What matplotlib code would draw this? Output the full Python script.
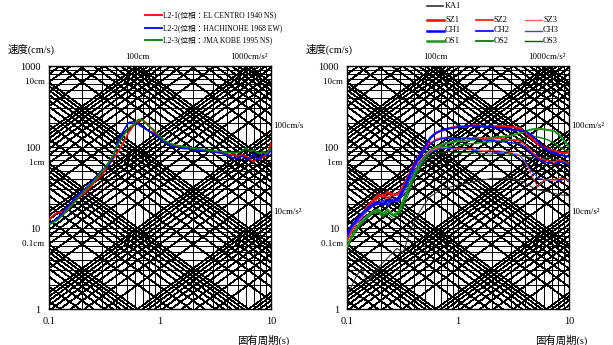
import numpy as np
import matplotlib
matplotlib.use('Agg')
import matplotlib.pyplot as plt
from matplotlib.lines import Line2D

plt.rcParams['font.family'] = ['Liberation Serif', 'Noto Sans CJK JP']

# ---------- data: left panel (3 waves) ----------
T_L = [0.10, 0.11, 0.12, 0.13, 0.15, 0.17, 0.19, 0.21, 0.24, 0.27, 0.30, 0.34, 0.38, 0.42,
       0.47, 0.52, 0.58, 0.64, 0.70, 0.78, 0.87, 0.97, 1.1, 1.25, 1.4, 1.6, 1.8, 2.1, 2.5,
       3.0, 3.5, 4.0, 4.5, 5.0, 5.5, 6.0, 6.5, 7.0, 7.5, 8.0, 8.5, 9.0, 9.5, 10]
el_centro = [12.6, 14.5, 15.5, 15.8, 17.5, 21, 24.5, 27, 33, 40, 45, 58, 72, 88, 115, 150,
             185, 210, 215, 190, 160, 135, 118, 108, 103, 100, 97, 95, 92, 88, 84, 82, 80,
             78, 80, 77, 70, 66, 72, 70, 76, 78, 90, 112]
hachinohe = [11.4, 12, 13.5, 15, 19, 23, 26.8, 30, 36, 44, 52, 58, 76, 120, 160, 200, 205,
             190, 175, 160, 150, 130, 115, 104, 100, 96, 95, 92, 90, 87, 85, 80, 74, 72, 78,
             69, 75, 82, 70, 73, 85, 80, 82, 95]
kobe = [11.0, 11.8, 12.6, 14, 17, 21, 25, 29, 35, 42, 50, 63, 80, 110, 140, 170, 190, 220,
        215, 185, 165, 140, 120, 110, 105, 102, 99, 96, 93, 90, 88, 86, 85, 85, 90, 97, 88,
        92, 85, 84, 88, 82, 90, 95]
left_labels = ['L2-1(位相：EL CENTRO 1940 NS)', 'L2-2(位相：HACHINOHE 1968 EW)',
               'L2-3(位相：JMA KOBE 1995 NS)']

# ---------- data: right panel (site waves) ----------
T_R = [0.10, 0.11, 0.12, 0.13, 0.15, 0.17, 0.19, 0.21, 0.23, 0.26, 0.29, 0.32, 0.36, 0.40,
       0.45, 0.50, 0.56, 0.63, 0.70, 0.80, 0.90, 1.0, 1.15, 1.3, 1.5, 1.7, 2.0, 2.3, 2.7,
       3.1, 3.6, 4.1, 4.6, 5.2, 5.8, 6.5, 7.3, 8.2, 9.1, 10]
sz1 = [7.5, 10, 12, 14, 18, 22, 26, 24, 28, 25, 27, 33, 46, 62, 80, 100, 128, 148, 158, 168,
       175, 180, 176, 183, 186, 180, 178, 182, 180, 176, 172, 150, 128, 108, 102, 94, 90, 86,
       84, 86]
sz2 = [7, 9.5, 11.5, 13, 17, 21, 24, 26, 23, 27, 25, 31, 43, 58, 75, 92, 112, 124, 130, 132,
       128, 125, 130, 128, 132, 126, 124, 128, 125, 122, 118, 105, 88, 75, 70, 68, 65, 70,
       66, 62]
sz3 = [6.8, 9, 11, 12.5, 16, 20, 23, 21, 25, 22, 24, 29, 40, 54, 68, 80, 90, 96, 100, 98, 95,
       97, 94, 96, 93, 90, 92, 90, 88, 85, 80, 62, 45, 32, 38, 40, 38, 42, 40, 38]
ch1 = [8.5, 11, 12.5, 14.5, 17, 20, 21, 19, 22, 21, 24, 30, 44, 60, 80, 100, 130, 150, 160,
       168, 172, 176, 180, 184, 182, 178, 176, 172, 168, 164, 160, 155, 140, 118, 100, 90,
       85, 80, 78, 76]
ch2 = [8, 10.5, 12, 14, 16.5, 19, 20, 22, 20, 23, 22, 28, 40, 56, 74, 90, 108, 120, 126, 130,
       128, 125, 130, 127, 124, 122, 120, 118, 115, 112, 110, 98, 84, 72, 66, 64, 62, 66,
       64, 60]
ch3 = [7.5, 10, 11.5, 13, 16, 18.5, 19.5, 21, 19, 22, 21, 26, 37, 50, 64, 76, 86, 92, 95, 96,
       95, 93, 95, 92, 90, 88, 87, 86, 84, 82, 78, 64, 50, 42, 40, 39, 40, 38, 40, 39]
os1 = [6, 8, 10, 11.5, 14, 16, 17, 15, 17, 14.5, 16, 22, 33, 46, 62, 78, 92, 100, 106, 112,
       115, 118, 120, 122, 125, 128, 130, 132, 135, 140, 148, 158, 165, 168, 166, 162, 158,
       140, 118, 100]
os2 = [5.8, 7.8, 9.5, 11, 13.5, 15.5, 16, 14, 16, 14, 15, 20, 30, 43, 58, 72, 85, 95, 100,
       102, 104, 106, 108, 110, 112, 115, 116, 118, 120, 122, 125, 130, 135, 133, 128, 122,
       112, 100, 92, 88]
os3 = [5.5, 7.5, 9, 10.5, 13, 15, 15.5, 13.5, 15, 13, 14, 18, 27, 40, 54, 66, 76, 82, 85, 88,
       87, 85, 86, 84, 85, 83, 82, 84, 83, 80, 78, 76, 74, 73, 72, 74, 70, 68, 66, 64]
T_KA = [0.1, 0.12, 0.135, 0.15, 0.2, 0.28, 0.32, 0.37, 0.45, 0.55, 0.7, 1.0, 1.5, 2.0, 3.0,
        4.0, 5.0, 6.5, 8.0, 10]
ka1 = [1.5, 2.5, 3.2, 2.1, 3.5, 5.6, 5.0, 9.4, 16, 24, 30, 34, 38, 41, 41, 36, 30, 28, 26, 25]

# ---------- tripartite grid ----------
grid_T = [m * 10.0 ** k for k in (-1, 0) for m in range(1, 10)] + [10]
grid_V = [m * 10.0 ** k for k in (0, 1, 2) for m in range(1, 10)] + [1000]
disp_vals = [m * 10.0 ** k for k in range(-2, 4) for m in range(1, 10)]
acc_vals = [m * 10.0 ** k for k in range(-1, 5) for m in range(1, 10)]

GRID = dict(color='k', lw=0.5, zorder=1, antialiased=False)


def tripartite(ax):
    ax.set_xscale('log')
    ax.set_yscale('log')
    for t in grid_T:
        ax.axvline(t, **GRID)
    for v in grid_V:
        ax.axhline(v, **GRID)
    tt = np.array([0.1, 10.0])
    for d in disp_vals:
        ax.plot(tt, 2 * np.pi * d / tt, **GRID)
    for a in acc_vals:
        ax.plot(tt, a * tt / (2 * np.pi), **GRID)
    ax.set_xlim(0.1, 10)
    ax.set_ylim(1, 1000)
    ax.minorticks_off()
    ax.set_xticks([0.1, 1, 10])
    ax.set_xticklabels(['0.1', '1', '10'])
    ax.set_yticks([1, 10, 100, 1000])
    ax.set_yticklabels(['1', '10', '100', '1000'])
    ax.tick_params(length=0, labelsize=7.5, pad=6)
    for s in ax.spines.values():
        s.set_linewidth(1.0)
    # displacement / acceleration labels
    ax.text(0.1, 2 * np.pi * 10 / 0.1, '10cm  ', ha='right', va='center', fontsize=6.5)
    ax.text(0.1, 2 * np.pi * 1 / 0.1, '1cm  ', ha='right', va='center', fontsize=6.5)
    ax.text(0.1, 2 * np.pi * 0.1 / 0.1, '0.1cm  ', ha='right', va='center', fontsize=6.5)
    ax.text(2 * np.pi * 100 / 1000, 1150, '100cm', ha='center', va='bottom', fontsize=6.5)
    ax.text(1000 * 2 * np.pi / 1000, 1150, '1000cm/s²', ha='center', va='bottom', fontsize=6.5)
    ax.text(10.4, 10 * 10 / (2 * np.pi), '10cm/s²', ha='left', va='center', fontsize=6.5)


fig = plt.figure(figsize=(6.13, 3.45), dpi=100)
ax1 = fig.add_axes([0.0799, 0.1043, 0.3622, 0.7043])
ax2 = fig.add_axes([0.5666, 0.1043, 0.3617, 0.7043])
tripartite(ax1)
tripartite(ax2)
ax1.text(10.4, 100 * 10 / (2 * np.pi) * 1.15, '100cm/s', ha='left', va='center', fontsize=6.5)
ax2.text(10.4, 100 * 10 / (2 * np.pi) * 1.15, '100cm/s²', ha='left', va='center', fontsize=6.5)

# left curves
left_series = [el_centro, hachinohe, kobe]
left_colors = ['#ff0000', '#0000ff', '#008000']
for vals, c in zip(left_series, left_colors):
    ax1.plot(T_L, vals, color=c, lw=1.2, zorder=3)

# right curves
right_series = [('OS3', os3, '#005a00', 0.7), ('OS2', os2, '#0a7a0a', 1.0),
                ('OS1', os1, '#1a951a', 1.5), ('SZ3', sz3, '#ff6060', 0.7),
                ('SZ2', sz2, '#ff2020', 1.0), ('SZ1', sz1, '#ff0000', 1.5),
                ('CH3', ch3, '#4040ff', 0.7), ('CH2', ch2, '#1010ff', 1.0),
                ('CH1', ch1, '#0000ff', 1.5)]
ax2.plot(T_KA, ka1, color='#333333', lw=0.8, zorder=3)
for name, vals, c, lw in right_series:
    ax2.plot(T_R, vals, color=c, lw=lw, zorder=3)

# axis titles
fig.text(8 / 613, 1 - 49 / 345, '速度(cm/s)', ha='left', va='center', fontsize=7.5)
fig.text(306 / 613, 1 - 49 / 345, '速度(cm/s)', ha='left', va='center', fontsize=7.5)
fig.text(289 / 613, 1 - 340 / 345, '固有周期(s)', ha='right', va='center', fontsize=7.5)
fig.text(587 / 613, 1 - 340 / 345, '固有周期(s)', ha='right', va='center', fontsize=7.5)

# left legend
for i, (lab, c) in enumerate(zip(left_labels, left_colors)):
    y = 1 - (15 + 12.7 * i) / 345
    fig.add_artist(Line2D([145 / 613, 162 / 613], [y, y], color=c, lw=1.3))
    fig.text(163 / 613, y, lab, ha='left', va='center', fontsize=5.5)

# right legend
ka_y = 1 - 6 / 345
fig.add_artist(Line2D([427 / 613, 443 / 613], [ka_y, ka_y], color='#333333', lw=1.2))
fig.text(445 / 613, ka_y, 'KA1', ha='left', va='center', fontsize=6)
leg_rows = [['SZ1', 'SZ2', 'SZ3'], ['CH1', 'CH2', 'CH3'], ['OS1', 'OS2', 'OS3']]
style = {name: (c, lw) for name, vals, c, lw in right_series}
col_x = [427, 476, 525]
row_y = [20, 30.5, 41]
for r, row in enumerate(leg_rows):
    for k, name in enumerate(row):
        c, lw = style[name]
        y = 1 - row_y[r] / 345
        fig.add_artist(Line2D([col_x[k] / 613, (col_x[k] + 17) / 613], [y, y], color=c,
                              lw=lw + 0.3))
        fig.text((col_x[k] + 18) / 613, y, name, ha='left', va='center', fontsize=6)

plt.savefig('out.png', dpi=100, facecolor='white')
